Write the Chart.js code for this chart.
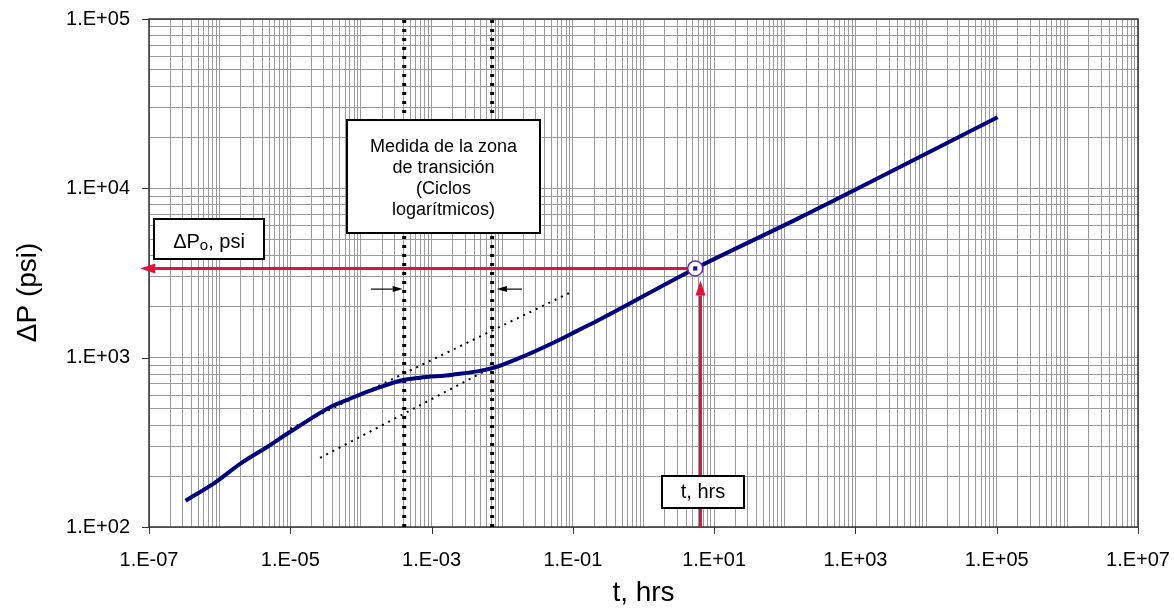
<!DOCTYPE html>
<html>
<head>
<meta charset="UTF-8">
<title>ΔP vs t</title>
<script src="https://cdn.jsdelivr.net/npm/chart.js"></script>
<style>
  body { margin: 0; background: #fff; }
  #wrap { width: 1174px; height: 611px; }
</style>
</head>
<body>
<div id="wrap"><canvas id="plot"></canvas></div>
<script>
// pressure curve (t in hrs, ΔP in psi)
const timeHrs = [3.3e-7, 8.6e-7, 1.95e-6, 4.7e-6, 1.0e-5, 4.0e-5, 7.0e-5, 1.35e-4, 3.6e-4, 6.9e-4,
                 2.0e-3, 7.5e-3, 1.8e-2, 5.3e-2, 0.115, 0.244, 5.4, 150, 1.03e5];
const deltaP  = [143, 183, 236, 297, 365, 520, 572, 638, 731, 762,
                 793, 871, 1000, 1225, 1440, 1686, 3365, 6600, 26300];

// the two parallel tangent lines (dotted)
const upperTanT = [1.0e-5, 0.092];
const upperTanP = [380, 2425];
const lowerTanT = [2.64e-5, 7.96e-3];
const lowerTanP = [256, 897];

// limits of the transition zone (thick dotted verticals)
const zoneT = [4.1e-4, 7.2e-3];
const xRange = [1e-7, 1e7];
const yRange = [1e2, 1e5];

// picked point on the curve
const pickT = [5.4];
const pickP = [3365];

// arrows, tail -> tip
const pArrowT = [4.3, 7.5e-8];
const pArrowP = [3365, 3365];
const tArrowT = [6.4, 6.4];
const tArrowP = [100, 2860];
const zoneArrowLT = [1.39e-4, 3.9e-4];
const zoneArrowRT = [1.9e-2, 8.4e-3];
const zoneArrowP = [2540, 2540];

// decades that carry a label
const xLabelExp = [-7, -5, -3, -1, 1, 3, 5, 7];
const yLabelExp = [2, 3, 4, 5];

const FONT = 'Arial, "Liberation Sans", sans-serif';
const RED = '#dc143c';

function pts(ts, ps) { return ts.map((t, i) => ({ x: t, y: ps[i] })); }

function logTicks(lo, hi) {
  const out = [];
  for (let e = lo; e < hi; e++)
    for (let m = 1; m < 10; m++) out.push({ value: m * Math.pow(10, e) });
  out.push({ value: Math.pow(10, hi) });
  return out;
}

function expLabel(v, wanted) {
  const e = Math.round(Math.log10(v));
  if (Math.abs(Math.log10(v) - e) > 1e-6 || !wanted.includes(e)) return '';
  return '1.E' + (e < 0 ? '-' : '+') + String(Math.abs(e)).padStart(2, '0');
}

// fixed scale box, no extra label overflow padding
function fixBox(s, w, h) {
  if (w) s.width = w;
  if (h) s.height = h;
  s.paddingTop = s.paddingBottom = s.paddingLeft = s.paddingRight = 0;
}

function drawArrow(ctx, x, y, ts, ps, color, width, headLen, headHalf) {
  const x0 = x.getPixelForValue(ts[0]), y0 = y.getPixelForValue(ps[0]);
  const x1 = x.getPixelForValue(ts[1]), y1 = y.getPixelForValue(ps[1]);
  const ang = Math.atan2(y1 - y0, x1 - x0);
  const bx = x1 - Math.cos(ang) * headLen, by = y1 - Math.sin(ang) * headLen;
  ctx.strokeStyle = color; ctx.fillStyle = color; ctx.lineWidth = width;
  ctx.beginPath(); ctx.moveTo(x0, y0); ctx.lineTo(bx, by); ctx.stroke();
  ctx.beginPath();
  ctx.moveTo(x1, y1);
  ctx.lineTo(bx + Math.sin(ang) * headHalf, by - Math.cos(ang) * headHalf);
  ctx.lineTo(bx - Math.sin(ang) * headHalf, by + Math.cos(ang) * headHalf);
  ctx.closePath(); ctx.fill();
}

function textBox(ctx, l, t, r, b) {
  ctx.fillStyle = '#fff'; ctx.fillRect(l, t, r - l, b - t);
  ctx.strokeStyle = '#000'; ctx.lineWidth = 2; ctx.strokeRect(l, t, r - l, b - t);
}

const decor = {
  id: 'decor',
  beforeDatasetsDraw(chart) {
    const { ctx, chartArea: a, scales: { x, y } } = chart;
    ctx.save();
    ctx.strokeStyle = '#333'; ctx.lineWidth = 1.5;
    ctx.strokeRect(a.left, a.top, a.right - a.left, a.bottom - a.top);
    ctx.lineWidth = 1;
    ctx.beginPath();
    xLabelExp.forEach(e => { const px = Math.round(x.getPixelForValue(Math.pow(10, e))) + 0.5; ctx.moveTo(px, a.bottom); ctx.lineTo(px, a.bottom + 7); });
    yLabelExp.forEach(e => { const py = Math.round(y.getPixelForValue(Math.pow(10, e))) + 0.5; ctx.moveTo(a.left - 7, py); ctx.lineTo(a.left, py); });
    ctx.stroke();
    drawArrow(ctx, x, y, pArrowT, pArrowP, RED, 3, 15, 5);
    drawArrow(ctx, x, y, tArrowT, tArrowP, RED, 3, 15, 5);
    drawArrow(ctx, x, y, zoneArrowLT, zoneArrowP, '#000', 1.2, 10, 3);
    drawArrow(ctx, x, y, zoneArrowRT, zoneArrowP, '#000', 1.2, 10, 3);
    ctx.restore();
  },
  afterDraw(chart) {
    const { ctx } = chart;
    ctx.save();
    ctx.textAlign = 'center'; ctx.textBaseline = 'middle';

    textBox(ctx, 347, 120, 540, 233);
    ctx.fillStyle = '#000'; ctx.font = '18px ' + FONT;
    ['Medida de la zona', 'de transición', '(Ciclos', 'logarítmicos)']
      .forEach((s, i) => ctx.fillText(s, 443.5, 147 + i * 21));

    textBox(ctx, 154, 219, 264, 259);
    ctx.fillStyle = '#000';
    ctx.textAlign = 'left'; ctx.textBaseline = 'alphabetic';
    ctx.font = '20px ' + FONT; const w1 = ctx.measureText('ΔP').width, w3 = ctx.measureText(', psi').width;
    ctx.font = '15px ' + FONT; const w2 = ctx.measureText('o').width;
    let sx = 209 - (w1 + w2 + w3) / 2;
    ctx.font = '20px ' + FONT; ctx.fillText('ΔP', sx, 248);
    ctx.font = '15px ' + FONT; ctx.fillText('o', sx + w1, 250);
    ctx.font = '20px ' + FONT; ctx.fillText(', psi', sx + w1 + w2, 248);

    textBox(ctx, 662, 476, 744, 508);
    ctx.fillStyle = '#000'; ctx.textAlign = 'center'; ctx.textBaseline = 'middle';
    ctx.font = '20px ' + FONT; ctx.fillText('t, hrs', 703, 492);
    ctx.restore();
  }
};

const vertical = t => [{ x: t, y: yRange[0] }, { x: t, y: yRange[1] }];

new Chart(document.getElementById('plot'), {
  type: 'scatter',
  data: {
    datasets: [
      { data: pts(pickT, pickP), pointStyle: 'rect', pointRadius: 3, backgroundColor: '#1a1a80', borderWidth: 0, order: 0 },
      { data: pts(pickT, pickP), pointStyle: 'circle', pointRadius: 7.5, backgroundColor: '#fff', borderColor: '#6a2cb0', borderWidth: 1.5, order: 1 },
      { data: pts(timeHrs, deltaP), showLine: true, borderColor: '#000080', borderWidth: 4, pointRadius: 0, cubicInterpolationMode: 'monotone', order: 2 },
      { data: pts(upperTanT, upperTanP), showLine: true, borderColor: '#000', borderWidth: 2, borderDash: [2, 5], pointRadius: 0, order: 3 },
      { data: pts(lowerTanT, lowerTanP), showLine: true, borderColor: '#000', borderWidth: 2, borderDash: [2, 5], pointRadius: 0, order: 3 },
      { data: vertical(zoneT[0]), showLine: true, borderColor: '#000', borderWidth: 4, borderDash: [3, 6], pointRadius: 0, order: 3 },
      { data: vertical(zoneT[1]), showLine: true, borderColor: '#000', borderWidth: 4, borderDash: [3, 6], pointRadius: 0, order: 3 }
    ]
  },
  options: {
    responsive: true,
    maintainAspectRatio: false,
    animation: false,
    layout: { padding: { top: 19, right: 36, left: 0, bottom: 0 } },
    plugins: { legend: { display: false }, tooltip: { enabled: false } },
    scales: {
      x: {
        type: 'logarithmic', min: xRange[0], max: xRange[1],
        afterBuildTicks: s => { s.ticks = logTicks(-7, 7); },
        afterFit: s => fixBox(s, 0, 84),
        grid: { color: '#9a9a9a', lineWidth: 1, drawTicks: false },
        border: { display: false },
        ticks: { autoSkip: false, maxRotation: 0, minRotation: 0, padding: 21, color: '#000',
                 font: { family: FONT, size: 20 }, callback: v => expLabel(v, xLabelExp) },
        title: { display: true, text: 't, hrs', color: '#000', font: { family: FONT, size: 28 }, padding: { top: 0, bottom: 1 } }
      },
      y: {
        type: 'logarithmic', min: yRange[0], max: yRange[1],
        afterBuildTicks: s => { s.ticks = logTicks(2, 5); },
        afterFit: s => fixBox(s, 149, 0),
        grid: { color: '#9a9a9a', lineWidth: 1, drawTicks: false },
        border: { display: false },
        ticks: { autoSkip: false, padding: 19, color: '#000',
                 font: { family: FONT, size: 20 }, callback: v => expLabel(v, yLabelExp) },
        title: { display: true, text: 'ΔP (psi)     ', color: '#000', font: { family: FONT, size: 28 }, padding: { top: 11, bottom: 0 } }
      }
    }
  },
  plugins: [decor]
});
</script>
</body>
</html>
